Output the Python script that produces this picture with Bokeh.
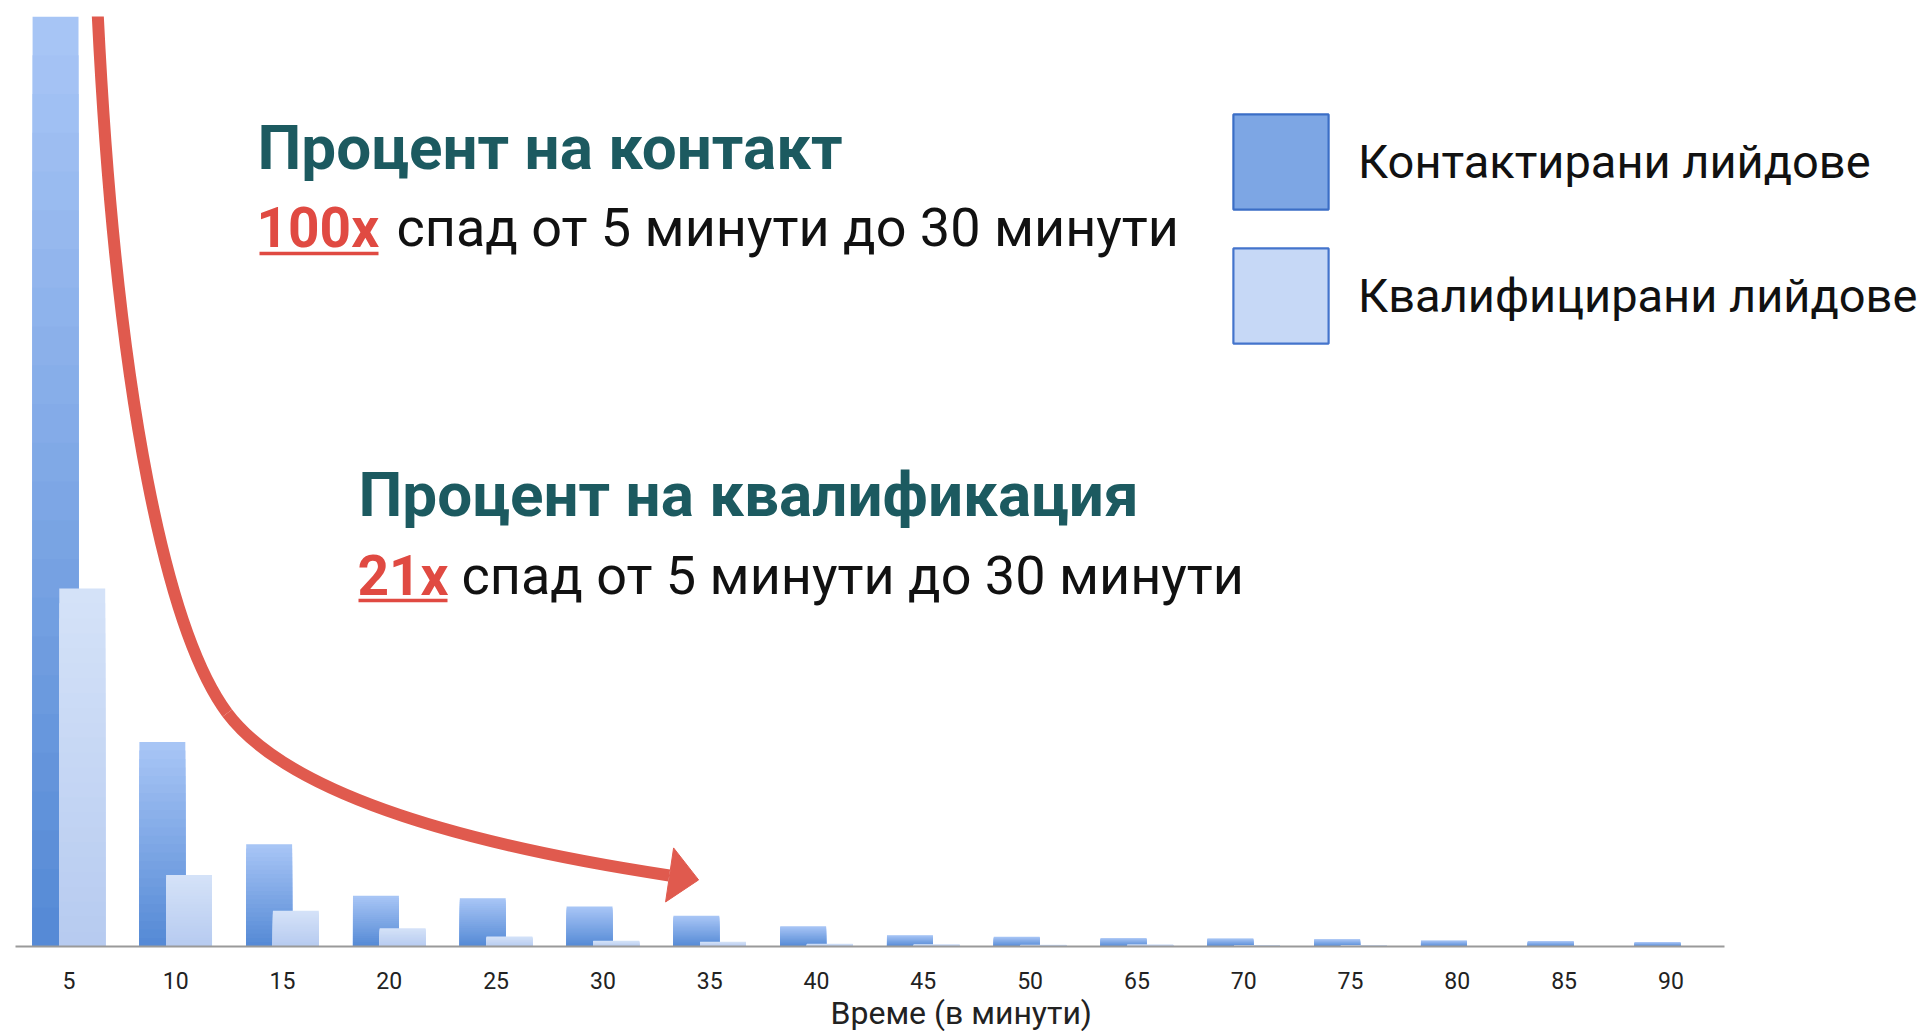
from bokeh.plotting import figure
from bokeh.models import (Range1d, FixedTicker, ColumnDataSource, Legend, LegendItem,
                          Label, BoxAnnotation, Title)
from bokeh.embed import file_html
from bokeh.resources import INLINE

# ---------------- data ----------------
minutes = ["5", "10", "15", "20", "25", "30", "35", "40", "45", "50",
           "65", "70", "75", "80", "85", "90"]
contacted = [100, 22.0, 11.0, 5.45, 5.2, 4.3, 3.3, 2.18, 1.21, 1.04,
             0.9, 0.86, 0.78, 0.64, 0.57, 0.46]
qualified = [38.5, 7.7, 3.84, 1.97, 1.07, 0.61, 0.51, 0.29, 0.21, 0.18,
             0.2, 0.15, 0.12, 0.06, 0.04, 0.02]
series_labels = ["Контактирани лийдове", "Квалифицирани лийдове"]
x_title = "Време (в минути)"
head1 = "Процент на контакт"
factor1 = "100x"
rest1 = "спад от 5 минути до 30 минути"
head2 = "Процент на квалификация"
factor2 = "21x"
rest2 = "спад от 5 минути до 30 минути"

# ---------------- styles ----------------
DARK_BOTTOM, DARK_TOP = "#5489d5", "#a9c6f6"
LIGHT_BOTTOM, LIGHT_TOP = "#b6cbf0", "#d5e2f8"
RED = "#e05a4e"
RED_TXT = "#e04a42"
TEAL = "#1c5a60"
BAR_W = 0.43
OFF = 0.125
N = 24
W, H = 1920, 1031
FL, FT, FBOT = 15, 16, 84          # frame borders (px)
CAT_PX = 106.8                      # pixel width of one category
FB = H - FBOT                       # frame bottom in page pixels
NAN = float("nan")


def _rgb(h):
    return tuple(int(h[i:i + 2], 16) for i in (1, 3, 5))


def _mix(c0, c1, t):
    a, b = _rgb(c0), _rgb(c1)
    return "#%02x%02x%02x" % tuple(round(x + (y - x) * t) for x, y in zip(a, b))


def gradient_source(values, offset, c_bottom, c_top):
    xs, tops, colors = [], [], []
    for k in range(N):  # tallest layer first (top colour), shorter & darker on top
        frac = (N - k) / N
        col = _mix(c_bottom, c_top, (N - k - 0.5) / N)
        for i, v in enumerate(values):
            xs.append(i + offset)
            tops.append(v * frac)
            colors.append(col)
    return ColumnDataSource(dict(x=xs, top=tops, color=colors))


x_end = -0.5 + (W - FL) / CAT_PX
p = figure(width=W, height=H, output_backend="svg", toolbar_location=None,
           x_range=Range1d(-0.5, x_end), y_range=Range1d(0, 100),
           y_axis_location=None, min_border_left=FL, min_border_right=0,
           min_border_top=FT, min_border_bottom=FBOT)
p.background_fill_color = "white"
p.border_fill_color = "white"
p.outline_line_color = None
p.xgrid.visible = False
p.ygrid.visible = False

# bars
src_c = gradient_source(contacted, -OFF, DARK_BOTTOM, DARK_TOP)
src_q = gradient_source(qualified, OFF, LIGHT_BOTTOM, LIGHT_TOP)
p.vbar(x="x", top="top", bottom=0, width=BAR_W, source=src_c,
       fill_color="color", line_color=None)
p.vbar(x="x", top="top", bottom=0, width=BAR_W, source=src_q,
       fill_color="color", line_color=None)

# legend proxies (not drawn in the plot)
leg_c = p.vbar(x=[NAN], top=[NAN], width=BAR_W, fill_color="#7da6e4",
               line_color="#3b6ec6", line_width=2.2)
leg_q = p.vbar(x=[NAN], top=[NAN], width=BAR_W, fill_color="#c6d8f6",
               line_color="#4474cc", line_width=2.2)
legend = Legend(items=[LegendItem(label=series_labels[0], renderers=[leg_c]),
                       LegendItem(label=series_labels[1], renderers=[leg_q])],
                location=(1206, FB - 356), orientation="vertical",
                glyph_width=119, glyph_height=119, spacing=15, label_standoff=18,
                padding=0, margin=0, border_line_alpha=0, background_fill_alpha=0,
                label_text_font="Roboto", label_text_font_size="47px",
                label_text_color="#111111")
p.add_layout(legend)

# red arrow (annotation geometry in data units)
arrow_b1 = dict(x0=[0.270], y0=[100.2], cx0=[0.448], cy0=[58.3],
                cx1=[0.931], cy1=[33.6], x1=[1.483], y1=[25.1])
arrow_b2 = dict(x0=[1.483], y0=[25.1], cx0=[2.031], cy0=[16.76],
                cx1=[3.580], cy1=[11.2], x1=[5.621], y1=[7.64])
arrow_head_x = [5.662, 5.896, 5.587]
arrow_head_y = [10.6, 7.16, 4.79]
for b in (arrow_b1, arrow_b2):
    p.bezier(line_color=RED, line_width=12, line_cap="butt", **b)
p.patch(arrow_head_x, arrow_head_y, fill_color=RED, line_color=RED, line_width=1)

# x axis
ax = p.xaxis[0]
ax.bounds = (-0.5, len(minutes) - 0.5)
ax.ticker = FixedTicker(ticks=list(range(len(minutes))))
ax.major_label_overrides = {i: m for i, m in enumerate(minutes)}
ax.major_tick_line_color = None
ax.minor_tick_line_color = None
ax.major_tick_out = 0
ax.major_tick_in = 0
ax.axis_line_color = "#9a9a9a"
ax.axis_line_width = 2
ax.major_label_standoff = 25
ax.major_label_text_font = "'Liberation Sans Narrow', Roboto, sans-serif"
ax.major_label_text_font_size = "23px"
ax.major_label_text_color = "#222222"

p.add_layout(Title(text=x_title, align="left", offset=815, standoff=0,
                   text_font="'Liberation Sans Narrow', Roboto, sans-serif",
                   text_font_size="32px", text_font_style="normal",
                   text_color="#222222"), "below")


# annotation texts (screen units relative to the plot frame)
def lab(text, xa, baseline, size, color, style="normal"):
    p.add_layout(Label(x=xa - FL, y=FB - baseline + 0.38 * size,
                       x_units="screen", y_units="screen",
                       text=text, text_font="Roboto", text_font_size=f"{size}px",
                       text_color=color, text_font_style=style,
                       text_baseline="alphabetic", text_align="left"))


def underline(x0, x1, ya):
    p.add_layout(BoxAnnotation(left=x0 - FL, right=x1 - FL, bottom=FB - ya - 1.8,
                               top=FB - ya + 1.8, left_units="screen",
                               right_units="screen", bottom_units="screen",
                               top_units="screen", fill_color=RED_TXT, fill_alpha=1,
                               line_alpha=0, level="overlay"))


lab(head1, 257, 172, 62, TEAL, "bold")
lab(factor1, 256, 249, 55, RED_TXT, "bold")
lab(rest1, 396, 249, 54, "#111111")
underline(259, 378, 254)
lab(head2, 358, 519, 62, TEAL, "bold")
lab(factor2, 357, 597, 55, RED_TXT, "bold")
lab(rest2, 461, 597, 54, "#111111")
underline(358, 447, 601)

open("out.html", "w").write(file_html(p, INLINE))
